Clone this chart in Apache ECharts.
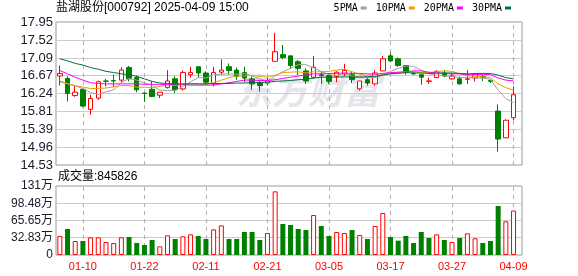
<!DOCTYPE html>
<html><head><meta charset="utf-8">
<script src="https://cdn.jsdelivr.net/npm/echarts@6/dist/echarts.min.js"></script>
<style>html,body{margin:0;padding:0;background:#fff}#c{width:578px;height:276px}</style>
</head><body><div id="c"></div>
<script>
const dates = ['01-07','01-08','01-09','01-10','01-13','01-14','01-15','01-16','01-17','01-20',
'01-21','01-22','01-23','01-24','01-27','02-05','02-06','02-07','02-10','02-11',
'02-12','02-13','02-14','02-17','02-18','02-19','02-20','02-21','02-24','02-25',
'02-26','02-27','02-28','03-03','03-04','03-05','03-06','03-07','03-10','03-11',
'03-12','03-13','03-14','03-17','03-18','03-19','03-20','03-21','03-24','03-25',
'03-26','03-27','03-28','03-31','04-01','04-02','04-03','04-07','04-08','04-09'];
const openP = [16.66,16.60,16.19,16.34,15.86,16.13,16.54,16.55,16.56,16.86,
16.62,16.25,16.34,16.20,16.38,16.59,16.35,16.69,16.88,16.73,
16.47,16.75,16.88,16.80,16.74,16.59,16.49,16.49,17.01,17.17,
17.14,17.00,16.78,16.63,16.69,16.67,16.65,16.71,16.69,16.35,
16.57,16.47,16.78,17.14,17.07,16.91,16.72,16.69,16.53,16.62,
16.73,16.59,16.59,16.58,16.61,16.65,16.55,15.82,15.18,15.66];
const closeP = [16.72,16.24,16.27,15.94,16.12,16.52,16.53,16.54,16.80,16.59,
16.33,16.24,16.17,16.27,16.54,16.33,16.74,16.74,16.73,16.51,
16.74,16.80,16.79,16.65,16.61,16.47,16.43,16.54,17.24,17.10,
16.91,16.84,16.54,16.87,16.67,16.53,16.75,16.79,16.57,16.54,
16.49,16.73,17.07,17.02,16.91,16.75,16.71,16.63,16.54,16.77,
16.66,16.66,16.47,16.59,16.69,16.63,16.53,15.15,15.60,16.21];
const lowP = [16.43,16.05,16.16,15.91,15.73,16.09,16.41,16.39,16.51,16.53,
16.27,16.04,16.15,16.13,16.36,16.25,16.31,16.62,16.62,16.45,
16.41,16.69,16.69,16.57,16.51,16.33,16.29,16.43,17.01,17.06,
16.83,16.69,16.47,16.59,16.47,16.47,16.51,16.66,16.49,16.31,
16.43,16.43,16.78,16.99,16.88,16.69,16.69,16.45,16.47,16.61,
16.63,16.57,16.45,16.47,16.53,16.54,16.49,14.85,15.18,15.60];
const highP = [16.91,16.65,16.43,16.37,16.21,16.55,16.59,16.69,16.87,16.90,
16.67,16.26,16.53,16.27,16.80,16.65,16.79,16.88,16.88,16.77,
16.88,17.06,16.96,16.86,16.88,16.65,16.54,16.62,17.69,17.40,
17.14,17.04,16.84,17.14,16.77,16.73,16.77,16.95,16.77,16.54,
16.62,16.80,17.14,17.22,17.10,16.91,16.77,16.71,16.62,16.80,
16.80,16.73,16.65,16.80,16.71,16.69,16.59,15.98,15.62,16.41];
const volume = [362000,495000,266000,266000,336000,336000,247000,228000,336000,342000,
228000,190000,285000,165000,374000,304000,355000,393000,362000,304000,
488000,564000,304000,304000,438000,438000,285000,419000,1211000,590000,
571000,495000,476000,761000,552000,362000,438000,419000,476000,381000,
304000,552000,799000,342000,273000,362000,228000,438000,324000,393000,
285000,247000,324000,412000,317000,228000,266000,932000,641000,845826];
const ma5 = [16.52,16.47,16.42,16.36,16.26,16.22,16.28,16.33,16.50,16.60,
16.56,16.50,16.43,16.32,16.31,16.31,16.41,16.52,16.62,16.61,
16.69,16.70,16.71,16.70,16.72,16.66,16.59,16.54,16.66,16.76,
16.84,16.93,16.93,16.85,16.77,16.69,16.67,16.72,16.66,16.64,
16.63,16.62,16.68,16.77,16.84,16.90,16.89,16.80,16.71,16.68,
16.66,16.65,16.62,16.63,16.61,16.61,16.58,16.32,16.12,16.02];
const ma10 = [16.54,16.48,16.43,16.39,16.36,16.36,16.37,16.40,16.43,16.43,
16.39,16.39,16.38,16.41,16.45,16.43,16.46,16.48,16.47,16.46,
16.50,16.56,16.62,16.66,16.66,16.68,16.65,16.63,16.68,16.74,
16.75,16.76,16.73,16.76,16.76,16.77,16.80,16.82,16.76,16.70,
16.66,16.65,16.70,16.72,16.74,16.76,16.76,16.74,16.74,16.76,
16.78,16.77,16.71,16.67,16.65,16.64,16.62,16.47,16.38,16.32];
const ma20 = [16.79,16.71,16.63,16.56,16.50,16.48,16.47,16.47,16.47,16.47,
16.47,16.46,16.46,16.46,16.45,16.45,16.45,16.44,16.44,16.44,
16.44,16.47,16.50,16.53,16.56,16.56,16.55,16.55,16.57,16.60,
16.63,16.66,16.68,16.71,16.71,16.72,16.72,16.73,16.72,16.72,
16.71,16.70,16.72,16.74,16.75,16.76,16.78,16.78,16.75,16.73,
16.72,16.71,16.71,16.69,16.69,16.70,16.69,16.61,16.56,16.54];
const ma30 = [17.07,17.02,16.96,16.92,16.86,16.82,16.77,16.74,16.71,16.69,
16.65,16.59,16.53,16.49,16.48,16.47,16.47,16.47,16.47,16.47,
16.48,16.48,16.48,16.49,16.49,16.50,16.50,16.51,16.53,16.54,
16.55,16.57,16.58,16.61,16.63,16.63,16.63,16.64,16.63,16.63,
16.64,16.65,16.68,16.71,16.72,16.74,16.73,16.73,16.72,16.73,
16.73,16.73,16.72,16.71,16.72,16.72,16.72,16.68,16.62,16.59];
const priceTicks = [14.53,14.96,15.39,15.81,16.24,16.67,17.09,17.52,17.95];
const volTicks = [0,328300,656500,984800,1313000];
const volTickLabels = ['0','32.83万','65.65万','98.48万','131万'];
const dateTickIdx = [3,11,19,27,35,43,51,59];
const maNames = ['5PMA','10PMA','20PMA','30PMA'];
const stockTitle = '盐湖股份[000792] 2025-04-09 15:00';

const UP = '#ff0000', DOWN = '#008000';
// volume colour: body direction, or change vs previous close for doji days
const volUp = i => {
  if (Math.abs(closeP[i] - openP[i]) < 0.015 && i > 0) return closeP[i] >= closeP[i - 1];
  return closeP[i] >= openP[i];
};
const candleData = dates.map((d, i) => [i, openP[i], closeP[i], lowP[i], highP[i]]);
const volData = volume.map((v, i) => ({
  value: [i, v],
  itemStyle: volUp(i) ? {color: '#ffffff', borderColor: UP, borderWidth: 1}
                      : {color: DOWN, borderColor: DOWN, borderWidth: 0}
}));
const maLine = (name, arr, color) => ({
  name, type: 'line', xAxisIndex: 0, yAxisIndex: 0,
  data: arr.map((v, i) => [i, v]), showSymbol: false, symbol: 'none',
  lineStyle: {width: 1, color}, itemStyle: {color}, silent: true, z: 3
});
const dashLines = {
  silent: true, symbol: 'none', z: 1, animation: false,
  label: {show: false},
  lineStyle: {color: '#b0b0b0', type: [4, 4], width: 1, opacity: 1},
  data: dateTickIdx.map(i => ({xAxis: i}))
};
// invisible carrier series that hold the dashed date guide lines in each panel
const guideSeries = (xi, yi, arr) => ({
  type: 'line', name: 'guide' + xi, xAxisIndex: xi, yAxisIndex: yi,
  data: arr.map((v, i) => [i, v]), showSymbol: false, symbol: 'none', silent: true, z: 1,
  lineStyle: {opacity: 0, width: 0}, itemStyle: {opacity: 0},
  markLine: dashLines
});
const font = "'Liberation Sans','Noto Sans CJK SC',sans-serif";
const xBase = {
  type: 'value', min: -0.5, max: 60.1,
  axisLine: {show: false},
  axisTick: {show: false},
  splitLine: {show: false}
};
const chart = echarts.init(document.getElementById('c'), null, {renderer: 'canvas'});
chart.setOption({
  animation: false,
  backgroundColor: '#ffffff',
  title: [
    {text: stockTitle, left: 56, top: 2, padding: 0,
     textStyle: {fontSize: 12, fontWeight: 'normal', color: '#000', fontFamily: font}},
    {text: '成交量:' + volume[volume.length - 1], left: 58, top: 171, padding: 0,
     textStyle: {fontSize: 12, fontWeight: 'normal', color: '#000', fontFamily: font}}
  ],
  legend: {
    data: maNames, right: 67, top: 3, align: 'right', icon: 'rect',
    itemWidth: 6, itemHeight: 3, itemGap: 9, padding: 0, selectedMode: false,
    textStyle: {fontFamily: "'DejaVu Sans Mono',monospace", fontSize: 10, color: '#000', padding: [0, -2, 0, 0]}
  },
  grid: [
    {left: 56, top: 22, width: 466, height: 143, show: true, borderColor: '#999', borderWidth: 1, backgroundColor: 'transparent', outerBoundsMode: 'none'},
    {left: 56, top: 186, width: 466, height: 69, show: true, borderColor: '#999', borderWidth: 1, backgroundColor: 'transparent', outerBoundsMode: 'none'}
  ],
  xAxis: [
    Object.assign({}, xBase, {gridIndex: 0, axisLabel: {show: false}}),
    Object.assign({}, xBase, {gridIndex: 1, axisLabel: {show: true, customValues: dateTickIdx,
      formatter: v => dates[Math.round(v)], color: '#ff0000', fontFamily: font, fontSize: 11, margin: 6}})
  ],
  yAxis: [
    {type: 'value', gridIndex: 0, min: 14.53, max: 17.95,
     axisLine: {show: false}, axisTick: {show: false, customValues: priceTicks},
     axisLabel: {customValues: priceTicks, formatter: v => v.toFixed(2), color: '#1a1a2a', fontFamily: font, fontSize: 13, margin: 3},
     splitLine: {show: true, lineStyle: {color: '#cccccc', width: 1}}},
    {type: 'value', gridIndex: 1, min: 0, max: 1313000,
     axisLine: {show: false}, axisTick: {show: false, customValues: volTicks},
     axisLabel: {customValues: volTicks, formatter: v => volTickLabels[volTicks.indexOf(v)], color: '#1a1a2a', fontFamily: font, fontSize: 12, margin: 3},
     splitLine: {show: true, lineStyle: {color: '#cccccc', width: 1}}}
  ],
  graphic: [
    {type: 'text', left: 236, top: 72, z: 0, silent: true,
     style: {text: '东方财富', fontSize: 36, fontWeight: 'bold', fontStyle: 'italic', fill: '#e5e5eb', fontFamily: "'Noto Sans CJK SC',sans-serif"}}
  ],
  series: [
    guideSeries(0, 0, closeP),
    guideSeries(1, 1, volume),
    {type: 'candlestick', name: 'K', xAxisIndex: 0, yAxisIndex: 0, data: candleData,
     encode: {x: 0, y: [1, 2, 3, 4]}, barWidth: 5, z: 2,
     itemStyle: {color: '#ffffff', color0: DOWN, borderColor: UP, borderColor0: DOWN, borderWidth: 1}},
    maLine('5PMA', ma5, '#a0a0a0'),
    maLine('10PMA', ma10, '#f0a000'),
    maLine('20PMA', ma20, '#ff00ff'),
    maLine('30PMA', ma30, '#006f3c'),
    {type: 'bar', name: 'VOL', xAxisIndex: 1, yAxisIndex: 1, data: volData, barWidth: 5, z: 2}
  ]
});
</script>
</body></html>
